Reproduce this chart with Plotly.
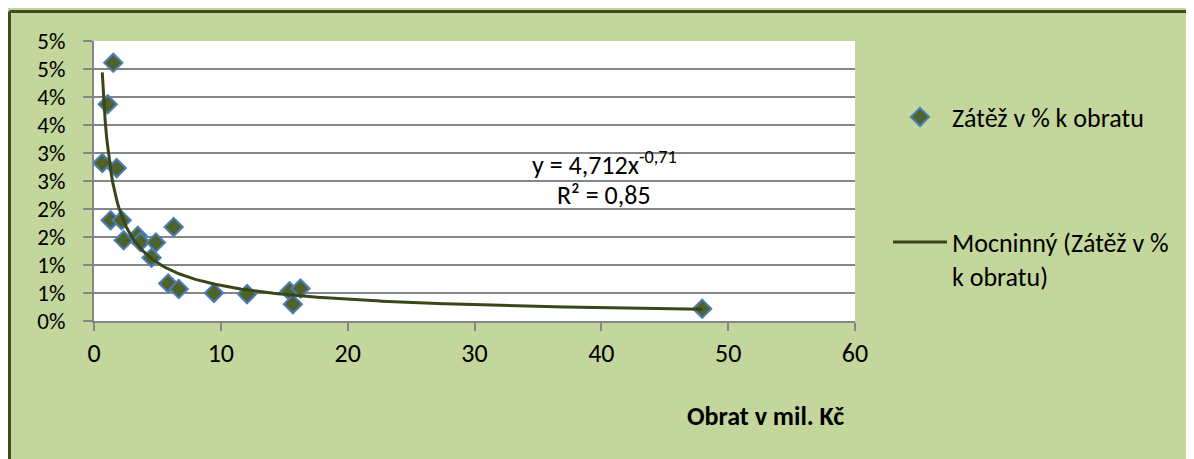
import numpy as np
import plotly.graph_objects as go

# Data (x = Obrat v mil. Kč, y = Zátěž v % k obratu, in %)
obrat = [1.52, 1.08, 0.65, 1.79, 1.31, 2.18, 2.34, 3.45, 3.66, 4.88, 4.54, 6.28,
         5.85, 6.68, 9.46, 12.07, 15.42, 15.68, 16.28, 47.95]
zatez = [4.61, 3.87, 2.82, 2.73, 1.80, 1.80, 1.44, 1.52, 1.41, 1.40, 1.13, 1.68,
         0.67, 0.57, 0.50, 0.48, 0.53, 0.30, 0.58, 0.22]

y_tickvals = [0, 0.5, 1, 1.5, 2, 2.5, 3, 3.5, 4, 4.5, 5]
y_ticktext = ["0%", "1%", "1%", "2%", "2%", "3%", "3%", "4%", "4%", "5%", "5%"]
x_tickvals = [0, 10, 20, 30, 40, 50, 60]

series_name = "Zátěž v % k obratu"
trend_name = "Mocninný (Zátěž v %<br>k obratu)"
eq_text = "y = 4,712x<sup>-0,71</sup>"
r2_text = "R² = 0,85"
x_title = "<b>Obrat v mil. Kč</b>"

# Power trendline fitted (log-log least squares) to the data, as Excel does
xa = np.array(obrat)
ya = np.array(zatez)
b, ln_a = np.polyfit(np.log(xa), np.log(ya), 1)
xt = np.linspace(xa.min(), xa.max(), 400)
yt = np.exp(ln_a) * xt ** b

FONT = "Carlito, Calibri, Lato, sans-serif"
FS = 26
FS_Y = 23
OFF = 8  # page body margin in the browser
W, H = 1194 - OFF, 459 - OFF
# plot area on screen: x 94..855, y 41..321
L, T = 94 - OFF, 41 - OFF
R = W - (855 - OFF)
B = H - (321 - OFF)
pw, ph = W - L - R, H - T - B

def px(sx):
    return (sx - OFF - L) / pw

def py(sy):
    return (H - B - (sy - OFF)) / ph

fig = go.Figure()
fig.add_trace(go.Scatter(
    x=obrat, y=zatez, mode="markers", name=series_name,
    marker=dict(symbol="diamond", size=14, color="#4F6228",
                line=dict(color="#4A7EBB", width=2)),
    legend="legend", cliponaxis=False,
))
fig.add_trace(go.Scatter(
    x=xt, y=yt, mode="lines", name=trend_name,
    line=dict(color="#38461A", width=3),
    legend="legend2",
))

grid = "#868686"
fig.update_layout(
    width=W, height=H, autosize=False,
    margin=dict(l=L, r=R, t=T, b=B, pad=0),
    paper_bgcolor="#C3D69B", plot_bgcolor="#FFFFFF",
    font=dict(family=FONT, size=FS, color="#000000"),
    xaxis=dict(range=[0, 60], tickvals=x_tickvals, ticks="outside", ticklen=8,
               tickwidth=2, tickcolor=grid, showgrid=False, showline=True,
               linecolor=grid, linewidth=2, zeroline=False,
               tickfont=dict(family=FONT, size=FS)),
    yaxis=dict(range=[0, 5], tickvals=y_tickvals, ticktext=y_ticktext,
               ticks="outside", ticklen=9, tickwidth=2, tickcolor=grid,
               showgrid=True, gridcolor=grid, gridwidth=1.5, showline=True,
               linecolor=grid, linewidth=2, zeroline=False,
               ticklabelstandoff=13, tickfont=dict(family=FONT, size=FS_Y)),
    legend=dict(x=px(888), y=py(117), xanchor="left", yanchor="middle",
                bgcolor="rgba(0,0,0,0)", itemwidth=54,
                font=dict(family=FONT, size=FS)),
    legend2=dict(x=px(888), y=py(259), xanchor="left", yanchor="middle",
                 bgcolor="rgba(0,0,0,0)", itemwidth=54, valign="top",
                 font=dict(family=FONT, size=FS)),
    showlegend=True,
)

fig.add_annotation(text=eq_text, xref="paper", yref="paper", x=px(604), y=py(163),
                   xanchor="center", yanchor="middle", showarrow=False,
                   font=dict(family=FONT, size=FS))
fig.add_annotation(text=r2_text, xref="paper", yref="paper", x=px(604), y=py(195),
                   xanchor="center", yanchor="middle", showarrow=False,
                   font=dict(family=FONT, size=FS))
fig.add_annotation(text=x_title, xref="paper", yref="paper", x=px(765), y=py(416),
                   xanchor="center", yanchor="middle", showarrow=False,
                   font=dict(family=FONT, size=FS))

border = "#3D4D1F"
fig.add_shape(type="line", xref="paper", yref="paper",
              x0=px(9.5), x1=px(9.5), y0=py(480), y1=py(11.5),
              line=dict(color=border, width=3))
fig.add_shape(type="line", xref="paper", yref="paper",
              x0=px(9.5), x1=px(1210), y0=py(11.5), y1=py(11.5),
              line=dict(color=border, width=3))

fig.write_html("out.html")
